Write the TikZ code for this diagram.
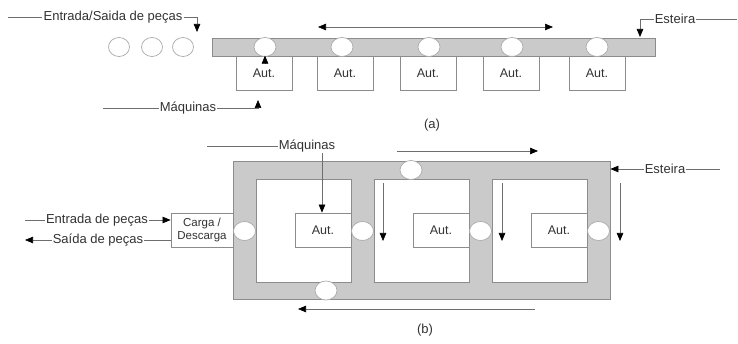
\documentclass[tikz,border=0pt]{standalone}
\usepackage{fontspec}
\setmainfont{Liberation Sans}
\usetikzlibrary{shapes.geometric,arrows.meta}
\definecolor{beltgray}{RGB}{202,202,202}
\definecolor{edgegray}{RGB}{140,140,140}
\definecolor{partedge}{RGB}{170,170,170}
\definecolor{linegray}{RGB}{110,110,110}
\definecolor{txt}{RGB}{50,50,50}
\tikzset{
  lbl/.style={font=\fontsize{13}{14}\selectfont, text=txt, inner sep=1pt},
  autbox/.style={draw=edgegray, fill=white, line width=0.8pt, minimum width=56pt, minimum height=34pt, inner sep=0pt, font=\fontsize{12.5}{14}\selectfont, text=txt},
  part/.style={ellipse, draw=partedge, fill=white, line width=0.7pt, minimum width=22pt, minimum height=19pt, inner sep=0pt},
  freepart/.style={ellipse, draw=partedge, fill=white, line width=0.7pt, minimum width=21pt, minimum height=19pt, inner sep=0pt},
  beltbox/.style={draw=edgegray, fill=beltgray, line width=0.8pt, inner sep=0pt},
  cell/.style={draw=edgegray, fill=white, line width=0.8pt, inner sep=0pt},
  ln/.style={draw=linegray, line width=0.6pt},
  arr/.style={ln, -{Triangle[length=8pt,width=6.5pt,color=black]}},
  darr/.style={ln, {Triangle[length=8pt,width=6.5pt,color=black]}-{Triangle[length=8pt,width=6.5pt,color=black]}},
}
\begin{document}
\begin{tikzpicture}[x=1pt,y=-1pt]
\useasboundingbox (0,0) rectangle (738,344);
% ---------------- (a) ----------------
\node[beltbox, minimum width=443pt, minimum height=18pt] (belt) at (433.5,47) {};
\foreach \i/\x in {1/264,2/345,3/428,4/511,5/597}{
  \node[autbox] (a\i) at (\x,73) {Aut.};
}
\foreach \i/\x in {1/265,2/342,3/429,4/512,5/597}{
  \node[part] (p\i) at (\x,47) {};
}
\foreach \i/\x in {1/119,2/152,3/183}{
  \node[freepart] (f\i) at (\x,47) {};
}
\node[lbl] (es) at (113,17) {Entrada/Saida de peças};
\coordinate (esL) at (8,17);
\coordinate (esC) at (197,17);
\coordinate (esT) at (197,32);
\draw[ln] (esL) -- (es.west);
\draw[arr] (es.east) -- (esC) -- (esT);

\node[lbl] (maqa) at (188,108) {Máquinas};
\coordinate (maqaL) at (103,108);
\coordinate (maqaC) at (258,108);
\coordinate (maqaT) at (258,100);
\draw[ln] (maqaL) -- (maqa.west);
\draw[arr] (maqa.east) -- (maqaC) -- (maqaT);
\coordinate (smallB) at (265,64);
\draw[arr] (smallB) -- (a1.north -| p1.south);

\coordinate (dl) at (318,27);
\coordinate (dr) at (553,27);
\draw[darr] (dl) -- (dr);

\node[lbl] (esta) at (675,19) {Esteira};
\coordinate (estaC) at (640,19);
\coordinate (estaT) at (640,37);
\coordinate (estaR) at (737,19);
\draw[arr] (esta.west) -- (estaC) -- (estaT);
\draw[ln] (esta.east) -- (estaR);

\node[lbl] (capa) at (432,125) {(a)};

% ---------------- (b) ----------------
\node[beltbox, minimum width=377pt, minimum height=138pt] (outer) at (421.5,230) {};
\node[cell, minimum width=95pt, minimum height=103pt] (c1) at (303.5,230.5) {};
\node[cell, minimum width=95pt, minimum height=103pt] (c2) at (421.5,230.5) {};
\node[cell, minimum width=95pt, minimum height=103pt] (c3) at (539.5,230.5) {};
\node[autbox] (b1) at (323,230) {Aut.};
\node[autbox] (b2) at (441,230) {Aut.};
\node[autbox] (b3) at (559,230) {Aut.};
\node[autbox, minimum width=62pt, align=center, font=\fontsize{11.5}{12.5}\selectfont] (cd) at (202,230) {Carga /\\Descarga};
\node[part] (q1) at (244.5,231) {};
\node[part] (q2) at (362.5,231) {};
\node[part] (q3) at (480.5,231) {};
\node[part] (q4) at (598.5,231) {};
\node[part] (q5) at (411,170) {};
\node[part] (q6) at (326,290.5) {};

\node[lbl] (ent) at (97,220) {Entrada de peças};
\coordinate (entL) at (25,220);
\draw[ln] (entL) -- (ent.west);
\draw[arr] (ent.east) -- (cd.west |- ent.east);

\node[lbl] (sai) at (98,240) {Saída de peças};
\coordinate (saiL) at (25,240);
\draw[arr] (sai.west) -- (saiL);
\draw[ln] (sai.east) -- (cd.west |- sai.east);

\node[lbl] (maqb) at (307,146) {Máquinas};
\coordinate (maqbL) at (207,146);
\coordinate (maqbV) at (322,153);
\draw[ln] (maqbL) -- (maqb.west);
\draw[arr] (maqbV) -- (maqbV |- b1.north);

\coordinate (tl) at (397,151);
\coordinate (tr) at (538,151);
\draw[arr] (tl) -- (tr);
\coordinate (bl) at (298,309);
\coordinate (br) at (535,309);
\draw[arr] (br) -- (bl);
\foreach \x [count=\k] in {383,502,620}{
  \coordinate (v\k t) at (\x,183);
  \coordinate (v\k b) at (\x,241);
  \draw[arr] (v\k t) -- (v\k b);
}

\node[lbl] (estb) at (665,169) {Esteira};
\coordinate (estbR) at (720,169);
\draw[arr] (estb.west) -- (outer.east |- estb.west);
\draw[ln] (estb.east) -- (estbR);

\node[lbl] (capb) at (425,330) {(b)};
\end{tikzpicture}
\end{document}
